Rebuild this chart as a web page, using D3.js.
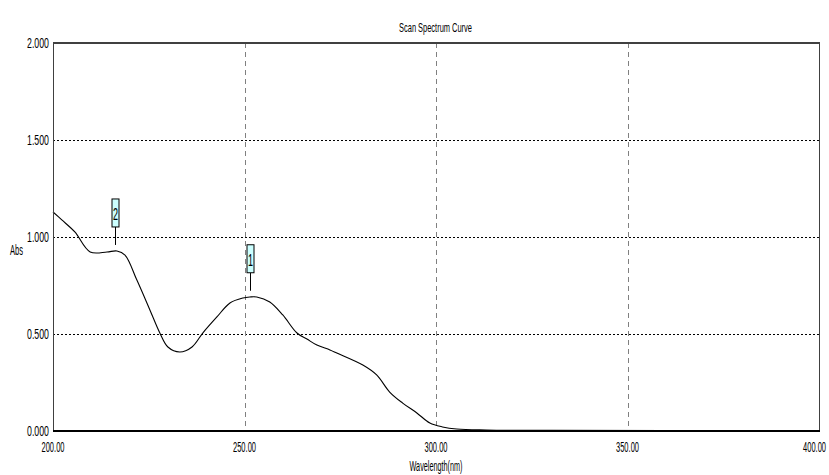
<!DOCTYPE html>
<html>
<head>
<meta charset="utf-8">
<script src="https://cdn.jsdelivr.net/npm/d3@7"></script>
<style>
  html, body { margin: 0; padding: 0; background: #fff; }
  svg { display: block; }
  text { font-family: "Liberation Sans Narrow", "Arial Narrow", "Liberation Sans", Arial, sans-serif; fill: #000; }
</style>
</head>
<body>
<script>
// Absorbance scan: wavelength (nm) vs absorbance
const wavelength = [200, 202.3, 205.7, 209.7, 214.1, 216.7, 218.8, 221.9, 225.3, 227.9, 230.0, 233.1, 236.3, 239.1, 242.8, 246.2, 249.6, 251.4, 253.2, 256.6, 260.0, 263.7, 266.3, 268.9, 272.3, 274.1, 280.9, 284.5, 287.9, 291.3, 295.0, 298.4, 301.7, 305.4, 313.2, 330, 360, 400];
const absorbance = [1.129, 1.088, 1.026, 0.923, 0.923, 0.928, 0.907, 0.778, 0.624, 0.505, 0.433, 0.407, 0.433, 0.505, 0.588, 0.660, 0.686, 0.691, 0.691, 0.665, 0.598, 0.505, 0.474, 0.443, 0.418, 0.402, 0.340, 0.289, 0.201, 0.144, 0.093, 0.041, 0.021, 0.010, 0.005, 0.003, 0.002, 0.002];

// Labelled peaks
const peakIds = ["1", "2"];
const peakWavelength = [251.4, 216.2];
const peakAbs = [0.692, 0.928];

const xTicks = [200, 250, 300, 350, 400];
const yTicks = [0, 0.5, 1.0, 1.5, 2.0];
const xGrid = [250, 300, 350];
const yGrid = [0.5, 1.0, 1.5];

const W = 829, H = 475;
const plotL = 53, plotR = 819, plotT = 43, plotB = 431;

const svg = d3.select("body").append("svg").attr("width", W).attr("height", H);

const x = d3.scaleLinear().domain([200, 400]).range([plotL, plotR]);
const y = d3.scaleLinear().domain([0, 2]).range([plotB, plotT]);

// condensed text helper: squeezes the text horizontally to the given width
function label(g, txt, px, py, width, anchor, size) {
  const wrap = g.append("g");
  const t = wrap.append("text")
    .attr("x", 0).attr("y", 0)
    .attr("font-size", size || 12)
    .attr("text-anchor", anchor || "start")
    .text(txt);
  const natural = t.node().getComputedTextLength() || width;
  const sx = width / natural;
  wrap.attr("transform", `translate(${px},${py}) scale(${sx},1)`);
  return t;
}

// grid
svg.append("g").selectAll("line").data(yGrid).join("line")
  .attr("x1", plotL).attr("x2", plotR)
  .attr("y1", d => Math.round(y(d)) + 0.5).attr("y2", d => Math.round(y(d)) + 0.5)
  .attr("stroke", "#000").attr("stroke-width", 1).attr("stroke-dasharray", "2,2");

svg.append("g").selectAll("line").data(xGrid).join("line")
  .attr("x1", d => Math.round(x(d)) + 0.5).attr("x2", d => Math.round(x(d)) + 0.5)
  .attr("y1", plotT).attr("y2", plotB)
  .attr("stroke", "#808080").attr("stroke-width", 1).attr("stroke-dasharray", "5,4");

// spectrum curve
const pts = wavelength.map((w, i) => [w, absorbance[i]]);
svg.append("path")
  .datum(pts)
  .attr("fill", "none")
  .attr("stroke", "#000")
  .attr("stroke-width", 1.1)
  .attr("d", d3.line().x(d => x(d[0])).y(d => y(d[1])).curve(d3.curveCatmullRom.alpha(0.5)));

// frame
svg.append("line").attr("x1", plotL).attr("x2", plotR + 1).attr("y1", plotT).attr("y2", plotT)
  .attr("stroke", "#404040").attr("stroke-width", 2);
svg.append("line").attr("x1", plotL + 0.5).attr("x2", plotL + 0.5).attr("y1", plotT).attr("y2", plotB)
  .attr("stroke", "#404040").attr("stroke-width", 1);
svg.append("line").attr("x1", plotR + 0.5).attr("x2", plotR + 0.5).attr("y1", plotT).attr("y2", plotB)
  .attr("stroke", "#404040").attr("stroke-width", 1);
svg.append("line").attr("x1", plotL).attr("x2", plotR + 1).attr("y1", plotB).attr("y2", plotB)
  .attr("stroke", "#000").attr("stroke-width", 2);

// peak markers
const pk = svg.append("g");
peakIds.forEach((id, i) => {
  const px = Math.round(x(peakWavelength[i])) + 0.5;
  const py = y(peakAbs[i]);
  const lineBot = py - 6, lineTop = py - 24, boxTop = lineTop - 28;
  pk.append("line").attr("x1", px).attr("x2", px).attr("y1", lineTop).attr("y2", lineBot)
    .attr("stroke", "#000").attr("stroke-width", 1);
  pk.append("rect").attr("x", px - 3.5).attr("y", boxTop).attr("width", 7).attr("height", 28)
    .attr("fill", "#ccffff").attr("stroke", "#000").attr("stroke-width", 1);
  label(pk, id, px, boxTop + 21, 5, "middle", 17);
});

// axis labels
const ax = svg.append("g");
yTicks.forEach(v => label(ax, d3.format(".3f")(v), 49, y(v) + 5, 22, "end", 14));
xTicks.forEach((v, i) => {
  const last = i === xTicks.length - 1;
  label(ax, d3.format(".2f")(v), last ? 826 : x(v), 452, 23, last ? "end" : "middle", 14);
});

label(ax, "Abs", 10, 255, 13, "start", 14);
label(ax, "Wavelength(nm)", 436, 471, 53, "middle", 14);
label(ax, "Scan Spectrum Curve", 435.5, 32, 73, "middle", 13);
</script>
</body>
</html>
